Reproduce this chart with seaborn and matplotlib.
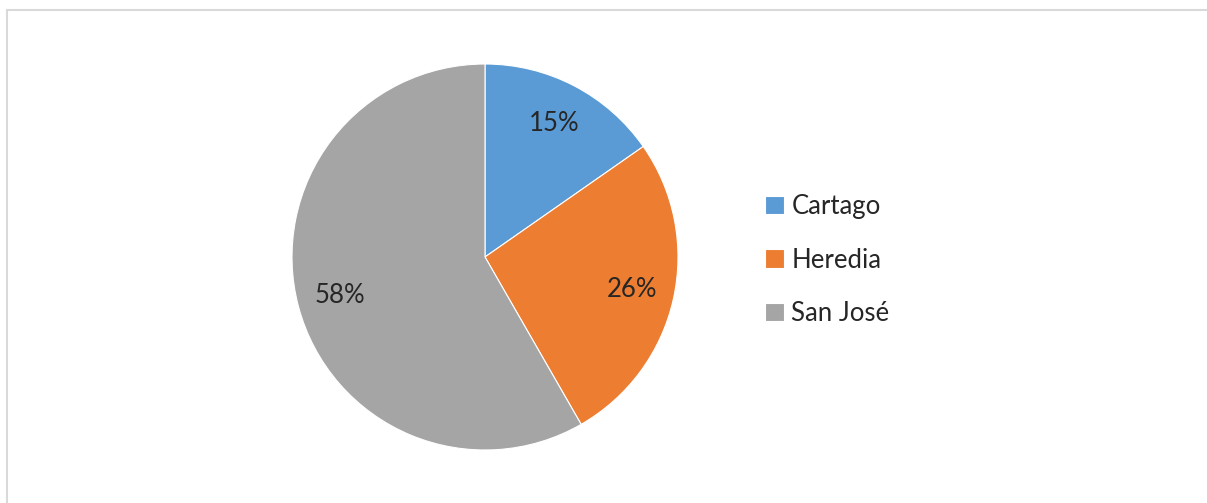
import matplotlib
matplotlib.use("Agg")
import matplotlib.pyplot as plt
from matplotlib.lines import Line2D
import seaborn as sns

categories = ["Cartago", "Heredia", "San José"]
values = [15.3, 26.4, 58.3]
colors_hex = ["#5B9BD5", "#ED7D31", "#A5A5A5"]

sns.set_theme(style="white")
plt.rcParams['font.family'] = ['Lato', 'DejaVu Sans']

W, H = 1207, 503
fig = plt.figure(figsize=(W / 100, H / 100), dpi=100)
fig.patch.set_facecolor("white")

# frame lines (top and left)
fig.add_artist(Line2D([6.5 / W, 6.5 / W], [0, 1 - 9.5 / H], transform=fig.transFigure,
                      color="#D9D9D9", lw=1.5))
fig.add_artist(Line2D([6.5 / W, 1], [1 - 9.5 / H, 1 - 9.5 / H], transform=fig.transFigure,
                      color="#D9D9D9", lw=1.5))

cx, cy, r = 485, 257, 193
ax = fig.add_axes([(cx - r) / W, (H - cy - r) / H, 2 * r / W, 2 * r / H])
palette = sns.color_palette(colors_hex)

wedges, texts, autotexts = ax.pie(
    values, colors=palette, startangle=90, counterclock=False,
    autopct=lambda p: f"{p:.0f}%", pctdistance=0.78,
    wedgeprops=dict(linewidth=0.8, edgecolor="white"),
    textprops=dict(fontsize=18.5, color="#262626"))
ax.set_xlim(-1, 1)
ax.set_ylim(-1, 1)
ax.axis("off")

fig.legend(wedges, categories, loc="center left",
           bbox_to_anchor=(755 / W, 1 - 260 / H), frameon=False,
           fontsize=18.5, handlelength=0.72, handleheight=0.72,
           handletextpad=0.3, labelspacing=1.12, borderaxespad=0,
           labelcolor="#262626")

fig.savefig("out.png", dpi=100, facecolor="white")
